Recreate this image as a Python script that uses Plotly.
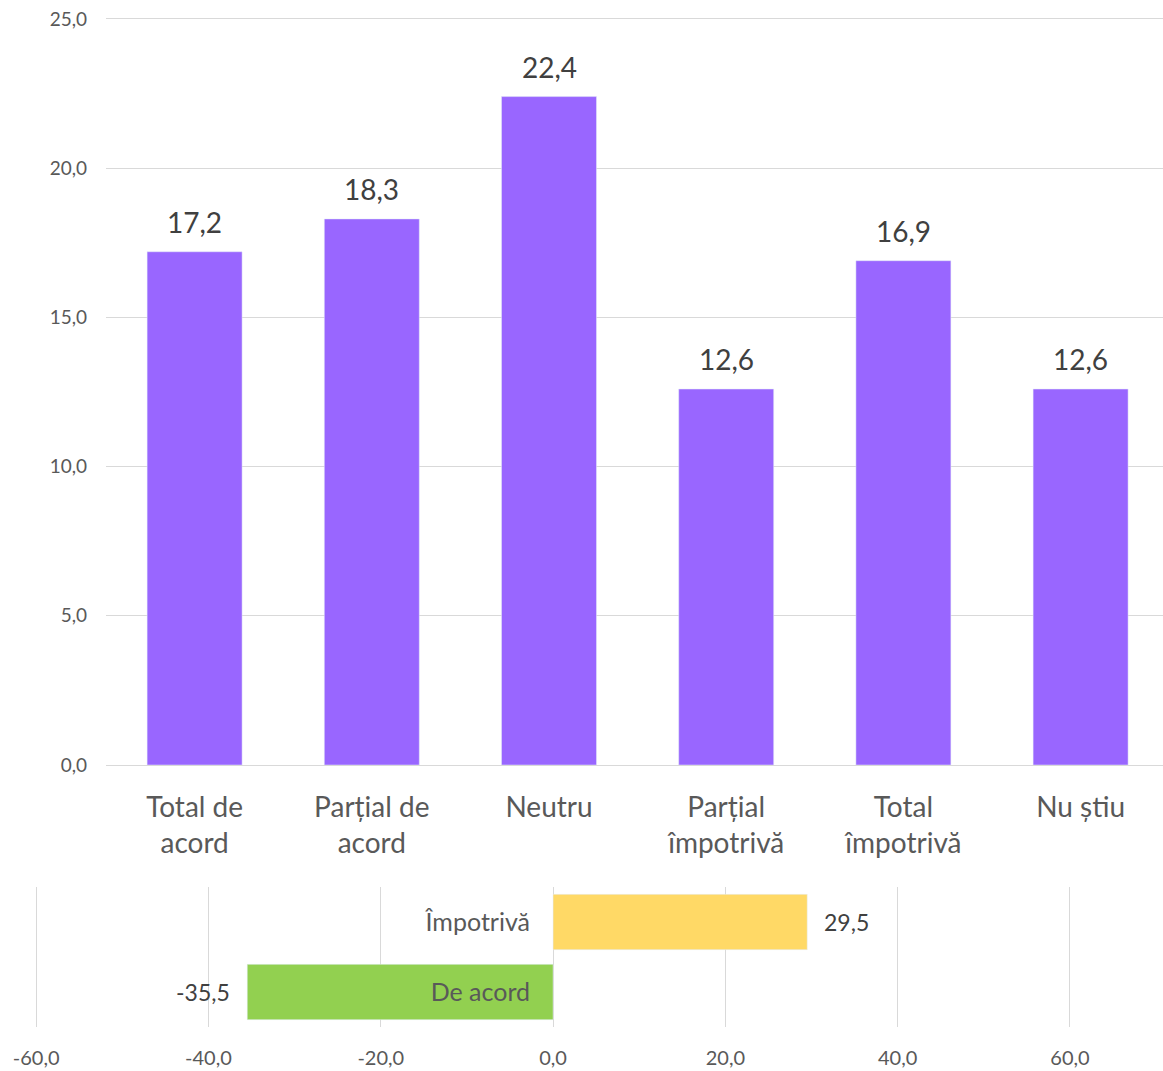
import plotly.graph_objects as go

# ---- data ----
categories = ["Total de<br>acord", "Parțial de<br>acord", "Neutru",
              "Parțial<br>împotrivă", "Total<br>împotrivă", "Nu știu"]
values = [17.2, 18.3, 22.4, 12.6, 16.9, 12.6]
y_ticks = [0, 5, 10, 15, 20, 25]

summary_categories = ["De acord", "Împotrivă"]
summary_values = [-35.5, 29.5]
summary_colors = ["#92D050", "#FFD966"]
x_ticks = [-60, -40, -20, 0, 20, 40, 60]

FONT = "Lato"
W, H = 1163, 1071


def fmt(v):
    return f"{v:.1f}".replace(".", ",")


def py(pix):
    return 1 - pix / H


fig = go.Figure()

fig.add_trace(go.Bar(
    x=categories, y=values, marker_color="#9966FF", xaxis="x", yaxis="y",
    hoverinfo="skip", showlegend=False,
))

fig.add_trace(go.Bar(
    y=summary_categories, x=summary_values, orientation="h",
    marker_color=summary_colors, xaxis="x2", yaxis="y2",
    hoverinfo="skip", showlegend=False,
))

annotations = []
for c, v in zip(categories, values):
    annotations.append(dict(
        x=c, y=v, xref="x", yref="y", text=fmt(v), showarrow=False,
        yanchor="bottom", yshift=11,
        font=dict(family=FONT, size=28, color="#404040"),
    ))
for c, v in zip(summary_categories, summary_values):
    annotations.append(dict(
        x=v, y=c, xref="x2", yref="y2", text=fmt(v), showarrow=False,
        xanchor="left" if v > 0 else "right", xshift=15 if v > 0 else -15,
        font=dict(family=FONT, size=23, color="#404040"),
    ))

fig.update_layout(
    width=W, height=H,
    margin=dict(l=0, r=0, t=0, b=0),
    paper_bgcolor="white", plot_bgcolor="white",
    bargap=0.464,
    font=dict(family=FONT, color="#595959"),
    annotations=annotations,
    xaxis=dict(
        domain=[106 / W, 1], anchor="y", type="category",
        range=[-0.5, 5.465], showgrid=False,
        showline=True, linecolor="#D9D9D9", linewidth=1,
        tickfont=dict(family=FONT, size=28, color="#595959"),
        ticks="", ticklabelstandoff=17, automargin=False, fixedrange=True,
    ),
    yaxis=dict(
        domain=[py(765), py(765 - 25.3 * 29.84)], anchor="x", range=[0, 25.3],
        tickvals=y_ticks, ticktext=[fmt(t) for t in y_ticks],
        showgrid=True, gridcolor="#D9D9D9", gridwidth=1,
        zeroline=False, showline=False,
        tickfont=dict(family=FONT, size=19, color="#595959"),
        ticks="", ticklabelstandoff=18, automargin=False, fixedrange=True,
    ),
    xaxis2=dict(
        domain=[0, 1], anchor="y2", range=[-64.2, 70.8],
        tickvals=x_ticks, ticktext=[fmt(t) for t in x_ticks],
        showgrid=True, gridcolor="#D9D9D9", gridwidth=1,
        zeroline=False, showline=False,
        tickfont=dict(family=FONT, size=20, color="#595959"),
        ticks="", ticklabelstandoff=17, automargin=False, fixedrange=True,
    ),
    yaxis2=dict(
        domain=[py(1027), py(887)], anchor="free", position=552 / W,
        type="category", range=[-0.5, 1.5],
        showgrid=False, zeroline=False, showline=False,
        tickfont=dict(family=FONT, size=25, color="#595959"),
        ticks="", ticklabelstandoff=22, automargin=False, fixedrange=True,
    ),
)

fig.update_traces(selector=dict(orientation="h"), width=0.79)

fig.write_html("out.html", config={"displayModeBar": False},
               post_script="document.body.style.margin='0';document.body.style.overflow='hidden';")
